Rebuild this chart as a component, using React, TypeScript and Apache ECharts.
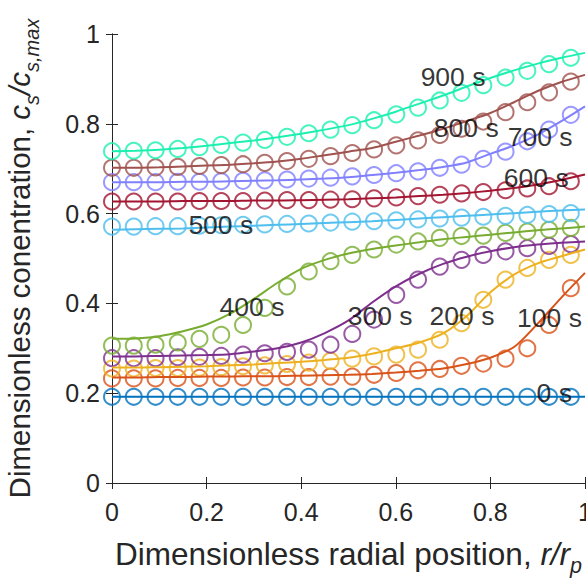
import React, { useEffect, useRef } from "react";
import * as echarts from "echarts";

const FONT = "'Liberation Sans', Arial, Helvetica, sans-serif";

// circle marker positions (r/rp)
const markerX = [0, 0.046, 0.092, 0.139, 0.185, 0.231, 0.277, 0.323, 0.37, 0.416, 0.462, 0.508, 0.554, 0.601, 0.647, 0.693, 0.739, 0.785, 0.832, 0.878, 0.924, 0.97];
// curve positions (r/rp)
const lineX = [0, 0.05, 0.1, 0.15, 0.2, 0.25, 0.3, 0.35, 0.4, 0.45, 0.5, 0.55, 0.6, 0.65, 0.7, 0.75, 0.8, 0.85, 0.9, 0.95, 1];

const times = ["0 s", "100 s", "200 s", "300 s", "400 s", "500 s", "600 s", "700 s", "800 s", "900 s"];
const colors = ["#0072BD", "#D95319", "#EDB120", "#7E2F8E", "#77AC30", "#4DBEEE", "#A2142F", "#8080FF", "#A0524E", "#1CF0B0"];

const line0 = [0.192, 0.192, 0.192, 0.192, 0.192, 0.192, 0.192, 0.192, 0.192, 0.192, 0.192, 0.192, 0.192, 0.192, 0.192, 0.192, 0.192, 0.192, 0.192, 0.192, 0.192];
const line100 = [0.235, 0.235, 0.236, 0.236, 0.237, 0.237, 0.238, 0.238, 0.239, 0.24, 0.241, 0.243, 0.246, 0.25, 0.255, 0.265, 0.279, 0.303, 0.355, 0.413, 0.468];
const line200 = [0.257, 0.257, 0.258, 0.259, 0.26, 0.262, 0.264, 0.267, 0.27, 0.274, 0.279, 0.288, 0.3, 0.313, 0.333, 0.372, 0.425, 0.464, 0.489, 0.505, 0.52];
const line300 = [0.282, 0.282, 0.283, 0.284, 0.285, 0.287, 0.293, 0.3, 0.313, 0.334, 0.362, 0.402, 0.438, 0.466, 0.488, 0.504, 0.516, 0.525, 0.531, 0.535, 0.538];
const line400 = [0.321, 0.322, 0.327, 0.338, 0.353, 0.377, 0.41, 0.446, 0.477, 0.497, 0.511, 0.521, 0.529, 0.536, 0.543, 0.548, 0.553, 0.558, 0.563, 0.567, 0.571];
const line500 = [0.564, 0.565, 0.566, 0.567, 0.569, 0.571, 0.573, 0.575, 0.577, 0.579, 0.581, 0.583, 0.586, 0.589, 0.592, 0.595, 0.598, 0.601, 0.604, 0.607, 0.609];
const line600 = [0.627, 0.627, 0.627, 0.628, 0.628, 0.628, 0.629, 0.629, 0.63, 0.631, 0.632, 0.634, 0.636, 0.639, 0.642, 0.646, 0.651, 0.657, 0.665, 0.675, 0.687];
const line700 = [0.67, 0.67, 0.67, 0.671, 0.671, 0.672, 0.673, 0.674, 0.676, 0.678, 0.681, 0.686, 0.691, 0.697, 0.704, 0.714, 0.733, 0.752, 0.776, 0.806, 0.839];
const line800 = [0.702, 0.702, 0.703, 0.705, 0.707, 0.709, 0.712, 0.716, 0.722, 0.73, 0.738, 0.746, 0.76, 0.774, 0.789, 0.806, 0.824, 0.848, 0.873, 0.893, 0.909];
const line900 = [0.739, 0.74, 0.742, 0.746, 0.751, 0.757, 0.763, 0.77, 0.778, 0.787, 0.797, 0.811, 0.827, 0.845, 0.863, 0.883, 0.902, 0.919, 0.934, 0.947, 0.958];

const mark0 = [0.192, 0.192, 0.192, 0.192, 0.192, 0.192, 0.192, 0.192, 0.192, 0.192, 0.192, 0.192, 0.192, 0.192, 0.192, 0.192, 0.192, 0.192, 0.192, 0.192, 0.192, 0.192];
const mark100 = [0.233, 0.233, 0.233, 0.234, 0.234, 0.234, 0.235, 0.235, 0.236, 0.236, 0.237, 0.237, 0.241, 0.245, 0.251, 0.254, 0.261, 0.266, 0.277, 0.3, 0.352, 0.434];
const mark200 = [0.255, 0.255, 0.256, 0.256, 0.257, 0.258, 0.26, 0.262, 0.265, 0.268, 0.272, 0.277, 0.282, 0.286, 0.297, 0.319, 0.356, 0.408, 0.453, 0.479, 0.497, 0.508];
const mark300 = [0.278, 0.278, 0.278, 0.28, 0.281, 0.283, 0.286, 0.289, 0.292, 0.297, 0.308, 0.332, 0.364, 0.419, 0.453, 0.482, 0.497, 0.508, 0.516, 0.523, 0.528, 0.532];
const mark400 = [0.306, 0.306, 0.308, 0.313, 0.321, 0.33, 0.352, 0.39, 0.438, 0.471, 0.494, 0.508, 0.52, 0.531, 0.538, 0.546, 0.55, 0.551, 0.557, 0.56, 0.564, 0.568];
const mark500 = [0.571, 0.571, 0.572, 0.572, 0.573, 0.574, 0.575, 0.576, 0.577, 0.578, 0.58, 0.582, 0.583, 0.585, 0.587, 0.589, 0.591, 0.593, 0.595, 0.597, 0.599, 0.601];
const mark600 = [0.627, 0.627, 0.627, 0.627, 0.628, 0.628, 0.628, 0.629, 0.63, 0.63, 0.631, 0.632, 0.634, 0.636, 0.639, 0.642, 0.645, 0.648, 0.652, 0.656, 0.661, 0.672];
const mark700 = [0.67, 0.67, 0.67, 0.671, 0.671, 0.672, 0.673, 0.674, 0.676, 0.678, 0.68, 0.683, 0.686, 0.69, 0.694, 0.702, 0.709, 0.722, 0.738, 0.761, 0.787, 0.82];
const mark800 = [0.702, 0.702, 0.703, 0.704, 0.706, 0.708, 0.71, 0.713, 0.717, 0.722, 0.728, 0.735, 0.743, 0.752, 0.763, 0.775, 0.789, 0.805, 0.826, 0.848, 0.87, 0.894];
const mark900 = [0.739, 0.74, 0.741, 0.744, 0.748, 0.753, 0.758, 0.764, 0.771, 0.779, 0.787, 0.797, 0.808, 0.821, 0.836, 0.852, 0.869, 0.886, 0.903, 0.918, 0.933, 0.947];

const lines = [line0, line100, line200, line300, line400, line500, line600, line700, line800, line900];
const marks = [mark0, mark100, mark200, mark300, mark400, mark500, mark600, mark700, mark800, mark900];

// label anchor positions in data units (x, y)
const labelPos: [number, number][] = [
  [0.935, 0.201], [0.925, 0.368], [0.74, 0.373], [0.567, 0.373], [0.296, 0.393],
  [0.23, 0.575], [0.897, 0.68], [0.905, 0.771], [0.749, 0.791], [0.721, 0.905],
];

const tickColor = "#262626";

export default function App() {
  const ref = useRef<HTMLDivElement>(null);
  useEffect(() => {
    if (!ref.current) return;
    const chart = echarts.init(ref.current, undefined, { renderer: "svg" });
    const series: any[] = [];
    times.forEach((t, k) => {
      series.push({
        type: "scatter",
        name: t + " markers",
        data: markerX.map((x, i) => [x, marks[k][i]]),
        symbol: "circle",
        symbolSize: 16,
        itemStyle: { color: "rgba(0,0,0,0)", borderColor: colors[k], borderWidth: 2 },
        silent: true,
        z: 2,
      });
      series.push({
        type: "line",
        name: t,
        data: lineX.map((x, i) => [x, lines[k][i]]),
        smooth: 0.3,
        showSymbol: false,
        lineStyle: { color: colors[k], width: 2 },
        itemStyle: { color: colors[k] },
        silent: true,
        z: 3,
      });
      series.push({
        type: "scatter",
        name: t + " label",
        data: [labelPos[k]],
        symbolSize: 0,
        silent: true,
        z: 5,
        label: {
          show: true,
          formatter: t,
          position: "inside",
          color: "#000",
          fontFamily: FONT,
          fontSize: 26.5,
        },
      });
    });

    const axisCommon = {
      type: "value",
      min: 0,
      max: 1,
      interval: 0.2,
      splitLine: { show: false },
      axisLine: { show: true, lineStyle: { color: tickColor, width: 1 } },
      axisTick: { show: true, inside: true, length: 6, lineStyle: { color: tickColor, width: 1 } },
    };

    const richStyles = (big: number, small: number) => ({
      n: { fontFamily: FONT, fontSize: big, color: tickColor, lineHeight: big * 1.5, verticalAlign: "middle" },
      i: { fontFamily: FONT, fontSize: big, fontStyle: "italic", color: tickColor, lineHeight: big * 1.5, verticalAlign: "middle" },
      s: { fontFamily: FONT, fontSize: small, fontStyle: "italic", color: tickColor, lineHeight: small, verticalAlign: "bottom" },
    });

    chart.setOption({
      animation: false,
      backgroundColor: "#fff",
      grid: { left: 112, right: 1, top: 34, bottom: 98, containLabel: false, outerBoundsMode: "none" },
      xAxis: [
        {
          ...axisCommon,
          position: "bottom",
          axisLabel: { color: tickColor, fontFamily: FONT, fontSize: 25, margin: 16 },
          name: "{n|Dimensionless radial position, }{i|r/r}{s|p}",
          nameLocation: "middle",
          nameGap: 47,
          nameTextStyle: { fontFamily: FONT, color: tickColor, rich: richStyles(31.5, 21.5) },
        },
        {
          ...axisCommon,
          position: "top",
          axisLabel: { show: false },
        },
      ],
      yAxis: [
        {
          ...axisCommon,
          position: "left",
          axisLabel: { color: tickColor, fontFamily: FONT, fontSize: 25, margin: 12 },
          name: "{n|Dimensionless conentration, }{i|c}{s|s}{i|/c}{s|s,max}",
          nameLocation: "middle",
          nameRotate: 90,
          nameGap: 70,
          nameTextStyle: { fontFamily: FONT, color: tickColor, rich: richStyles(29.5, 20) },
        },
        {
          ...axisCommon,
          position: "right",
          axisLabel: { show: false },
        },
      ],
      series,
    });
    return () => chart.dispose();
  }, []);
  return (
    <div
      ref={ref}
      style={{ position: "fixed", left: 0, top: 0, width: 586, height: 581, background: "#fff" }}
    />
  );
}
